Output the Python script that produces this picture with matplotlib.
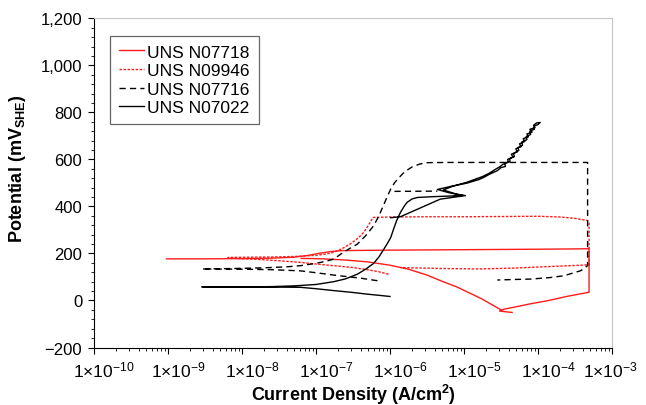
import numpy as np
import matplotlib
matplotlib.use("Agg")
from matplotlib import pyplot as plt
from matplotlib.ticker import FuncFormatter, MultipleLocator, LogLocator, NullFormatter
from matplotlib.transforms import ScaledTranslation

nan = np.nan

# log10 of current density (A/cm2) and potential (mV SHE)
n07718_logi = [-9.02, -8.5, -8.0, -7.6, -7.3, -7.1, -6.95, -6.8, -6.65, -6.4, -6.0, -5.5, -5.0,
               -4.5, -4.0, -3.6, -3.31, -3.31, -3.6, -3.87, -4.1, -4.33, -4.46, -4.52, -4.35,
               nan, -4.5, -4.6, -4.75, -4.9, -5.1, -5.3, -5.5, -5.75, -6.0, -6.3, -6.6, -6.9, -7.2]
n07718_e = [177, 177, 178, 180, 184, 192, 201, 208, 212, 213, 214, 215, 216,
            217, 218, 219, 220, 35, 18, -1, -14, -29, -37, -45, -51,
            nan, -40, -22, 5, 28, 58, 82, 108, 133, 150, 164, 172, 177, 179]

n09946_logi = [-6.02, -6.15, -6.31, -6.5, -6.76, -7.0, -7.21, -7.5, -7.8, -8.19, -8.19, -7.9,
               -7.6, -7.3, -7.0, -6.85, -6.76, -6.65, -6.54, -6.46, -6.40, -6.35, -6.31, -6.27,
               -6.23, -6.0, -5.5, -5.0, -4.5, -4.0, -3.7, -3.5, -3.33, -3.31, -3.31, -3.42,
               -3.87, -4.3, -4.78, -5.3, -5.86]
n09946_e = [112, 122, 131, 140, 148, 155, 162, 169, 175, 180, 183, 184,
            185, 187, 192, 198, 205, 220, 240, 258, 275, 292, 311, 332,
            353, 355, 356, 356, 357, 358, 355, 349, 340, 330, 152, 150,
            144, 138, 134, 136, 140]

n07716_logi = [-6.17, -6.4, -6.76, -7.0, -7.21, -7.6, -8.0, -8.54, -8.54, -8.1, -7.7, -7.4,
               -7.21, -7.0, -6.85, -6.76, -6.63, -6.54, -6.44, -6.33, -6.22, -6.15, -6.09,
               -6.04, -5.99, -5.94, -5.88, -5.80, -5.70, -5.6, -5.5, -5.2, -4.8, -4.3, -3.8,
               -3.33, -3.33, -3.42, -3.65, -3.85, -4.10, -4.35, -4.55, nan, -5.94, -5.36]
n07716_e = [84, 95, 108, 118, 126, 131, 133, 134, 134, 136, 139, 143,
            148, 158, 168, 176, 205, 222, 240, 275, 318, 360, 403,
            440, 474, 500, 522, 548, 568, 580, 586, 587, 587, 587, 587,
            587, 148, 127, 105, 97, 91, 89, 87, nan, 464, 465]

n07022_logi = [-6.0, -6.15, -6.31, -6.5, -6.76, -7.0, -7.21, -7.6, -8.0, -8.54, -8.54, -8.0,
               -7.6, -7.3, -7.0, -6.76, -6.6, -6.44, -6.32, -6.22, -6.15, -6.09, -6.04, -5.99,
               -5.95, -5.91, -5.86, -5.81, -5.77, -5.70, -5.63, -5.45, -5.2, -5.02, -5.2, -5.36,
               -5.18, -4.96, -4.8, -4.73, -4.66, -4.60, -4.55,
               -4.50, -4.44, -4.45, -4.38, -4.38, -4.32, -4.33, -4.26, -4.27, -4.21, -4.22, -4.15,
               -4.16, -4.10, -4.11, -4.05, -4.05, -4.00, -3.97,
               -4.02, -4.06, -4.04, -4.11, -4.08, -4.15, -4.13, -4.20, -4.18, -4.25, -4.23, -4.30,
               -4.28, -4.36, -4.34, -4.41, -4.40, -4.47, -4.52, -4.58,
               -4.66, -4.75, -4.96, -5.15, -5.28, -5.1, -4.98, -5.32, -5.63, -5.86, -5.99]
n07022_e = [17, 22, 27, 34, 42, 50, 56, 57, 58, 58, 58, 58,
            59, 62, 68, 80, 92, 112, 135, 158, 185, 215, 240, 268,
            305, 340, 374, 400, 417, 432, 438, 441, 444, 447, 458, 472,
            485, 499, 514, 524, 536, 545, 552,
            565, 570, 585, 590, 603, 612, 625, 638, 650, 660, 674, 684,
            697, 706, 720, 728, 742, 748, 757,
            755, 745, 735, 728, 716, 708, 696, 688, 676, 666, 654, 645,
            632, 622, 610, 600, 588, 580, 568, 557,
            541, 527, 503, 486, 470, 452, 446, 431, 388, 356, 352]

labels = ['UNS N07718', 'UNS N09946', 'UNS N07716', 'UNS N07022']

plt.rcParams.update({
    "font.family": "Liberation Sans",
    "mathtext.fontset": "custom",
    "mathtext.rm": "Liberation Sans",
    "mathtext.it": "Liberation Sans:italic",
    "mathtext.bf": "Liberation Sans:bold",
    "font.size": 12,
})

fig = plt.figure(figsize=(6.46, 4.06), dpi=100)
ax = fig.add_axes([0.1455, 0.1416, 0.8019, 0.8109])

lw = 1.0
ax.plot(10 ** np.array(n07718_logi), n07718_e, color='#ff1a1a', lw=lw, label=labels[0])
ax.plot(10 ** np.array(n09946_logi), n09946_e, color='#ff1a1a', lw=lw, dashes=(1.8, 1.1), label=labels[1])
ax.plot(10 ** np.array(n07716_logi), n07716_e, color='black', lw=lw, dashes=(4.5, 3), label=labels[2])
ax.plot(10 ** np.array(n07022_logi), n07022_e, color='black', lw=lw, label=labels[3])

ax.set_xscale('log')
ax.set_xlim(1e-10, 1e-3)
ax.set_ylim(-200, 1200)

ax.set_xticks([10.0 ** k for k in range(-10, -2)])
ax.xaxis.set_major_formatter(FuncFormatter(lambda v, p: r'$1{\times}10^{%d}$' % round(np.log10(v))))
ax.xaxis.set_minor_locator(LogLocator(base=10, subs=np.arange(2, 10)))
ax.xaxis.set_minor_formatter(NullFormatter())

ax.set_yticks(np.arange(-200, 1201, 200))
ax.yaxis.set_minor_locator(MultipleLocator(40))
ax.yaxis.set_major_formatter(FuncFormatter(lambda v, p: f'{v:,.0f}'.replace('-', '\u2212')))

ax.tick_params(which='major', direction='out', length=4.5, width=0.8, labelsize=12.5, pad=4)
ax.tick_params(which='minor', direction='out', length=2.5, width=0.6)
ax.tick_params(axis='y', labelsize=12)

for side in ['top', 'right']:
    ax.spines[side].set_color('#c4c4c4')
    ax.spines[side].set_linewidth(0.8)
for side in ['left', 'bottom']:
    ax.spines[side].set_linewidth(0.8)

ax.set_xlabel(r'Current Density (A/cm$^{\mathbf{2}}$)', fontsize=13, fontweight='bold')
ax.xaxis.set_label_coords(0.5, -0.140)
ax.xaxis.label.set_verticalalignment('center')
ax.set_ylabel(r'Potential (mV$_{\mathbf{SHE}}$)', fontsize=13, fontweight='bold')
ax.yaxis.set_label_coords(-0.1467, 0.545)
ax.yaxis.label.set_verticalalignment('center')

leg = ax.legend(loc='upper left', bbox_to_anchor=(0.031, 0.947), borderaxespad=0,
                fontsize=12.5, frameon=True, fancybox=False, handlelength=1.45,
                handletextpad=0.2, labelspacing=0.2, borderpad=0.5)
leg.get_frame().set_edgecolor('#404040')
leg.get_frame().set_linewidth(0.9)

# tick labels sit a little right of the decade ticks in the original
fig.canvas.draw()
ticks = ax.xaxis.get_major_ticks()
for i, t in enumerate(ticks):
    dx = 0.10 if i < len(ticks) - 1 else -0.02
    t.label1.set_transform(t.label1.get_transform() + ScaledTranslation(dx, 0, fig.dpi_scale_trans))

fig.savefig('out.png', dpi=100)
